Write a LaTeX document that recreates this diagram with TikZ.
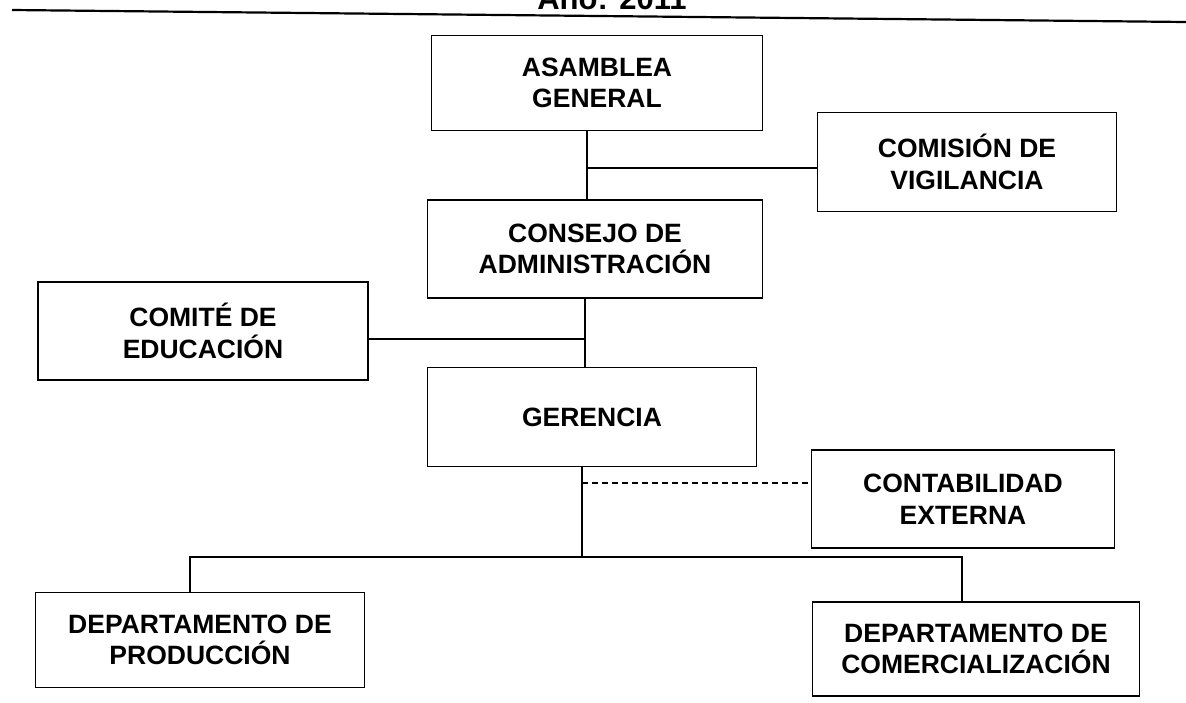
\documentclass[tikz,border=0pt]{standalone}
\usepackage{fontspec}
\setmainfont{Liberation Sans}
\begin{document}
\begin{tikzpicture}[x=1pt,y=-1pt,
  box/.style={draw,line width=1.4pt,rectangle,align=center,font=\fontsize{26.5}{31.5}\selectfont\bfseries,inner sep=0pt},
  conn/.style={line width=1.3pt}]
\useasboundingbox (0,0) rectangle (1186,702);
\node[anchor=base,font=\fontsize{31}{34}\selectfont\bfseries] (title) at (612,9) {Año: 2011};
\draw[line width=2.2pt] (12,10) -- (1186,22);
\node[box,minimum width=331,minimum height=95] (asam) at (597,83) {ASAMBLEA\\GENERAL};
\node[box,minimum width=299,minimum height=99] (comis) at (967,162) {COMISIÓN DE\\VIGILANCIA};
\node[box,minimum width=335,minimum height=98] (cons) at (595,249) {CONSEJO DE\\ADMINISTRACIÓN};
\node[box,minimum width=330,minimum height=98] (comite) at (203,331) {COMITÉ DE\\EDUCACIÓN};
\node[box,minimum width=329,minimum height=99] (ger) at (592,417) {GERENCIA};
\node[box,minimum width=303,minimum height=98] (cont) at (963,499) {CONTABILIDAD\\EXTERNA};
\node[box,minimum width=329,minimum height=95] (prod) at (200,640) {DEPARTAMENTO DE\\PRODUCCIÓN};
\node[box,minimum width=327,minimum height=94] (comer) at (976,649) {DEPARTAMENTO DE\\COMERCIALIZACIÓN};
\coordinate (j1) at (587,168);
\coordinate (j2) at (585,339);
\coordinate (j3) at (582,483);
\coordinate (bus) at (582,557);
\coordinate (bl) at (190,557);
\coordinate (br) at (962,557);
\draw[conn] (j1|-asam.south) -- (j1|-cons.north);
\draw[conn] (j1) -- (comis.west|-j1);
\draw[conn] (j2|-cons.south) -- (j2|-ger.north);
\draw[conn] (j2) -- (comite.east|-j2);
\draw[conn] (bus|-ger.south) -- (bus);
\draw[conn,dashed,dash pattern=on 6pt off 4pt] (j3) -- (cont.west|-j3);
\draw[conn] (bl|-prod.north) -- (bl) -- (br) -- (br|-comer.north);
\end{tikzpicture}
\end{document}
